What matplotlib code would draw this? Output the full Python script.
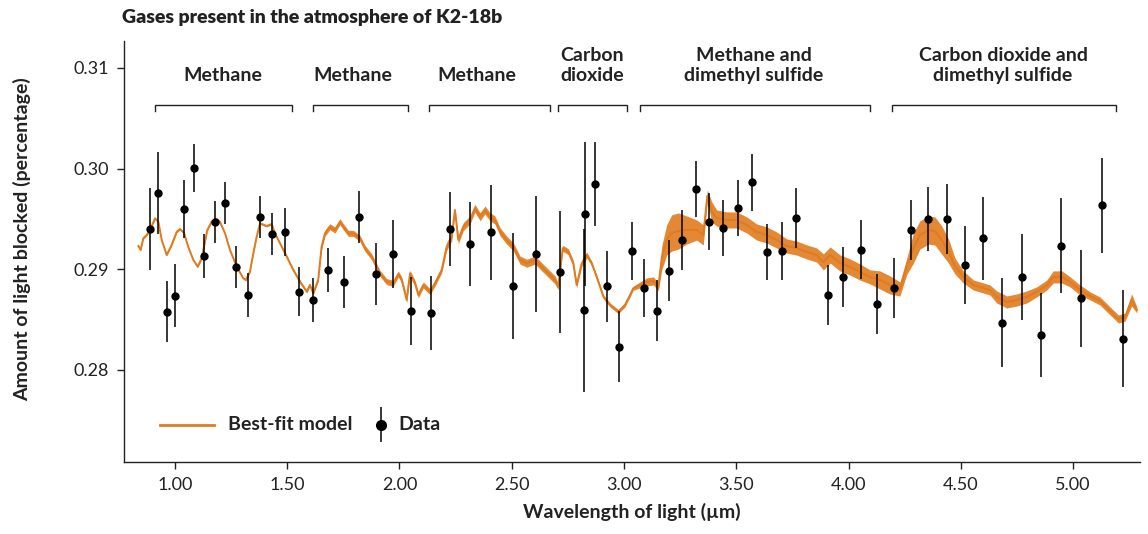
import matplotlib
matplotlib.use("Agg")
import matplotlib.pyplot as plt
import numpy as np
from matplotlib.ticker import FormatStrFormatter

plt.rcParams['font.family'] = ['Lato', 'DejaVu Sans']

# best-fit model (wavelength in um, depth in %, band half-width)
model_wl = [
    0.837, 0.847, 0.859, 0.874, 0.889, 0.911, 0.926, 0.941, 0.963, 0.985,
    1.008, 1.022, 1.040, 1.059, 1.082, 1.101, 1.119, 1.144, 1.163, 1.186,
    1.200, 1.223, 1.245, 1.275, 1.304, 1.316, 1.334, 1.349, 1.364, 1.379,
    1.408, 1.431, 1.445, 1.468, 1.498, 1.527, 1.557, 1.587, 1.601, 1.616,
    1.638,
    1.653, 1.668, 1.690, 1.713, 1.735, 1.750, 1.772, 1.794, 1.824, 1.846,
    1.876, 1.913, 1.943, 1.972, 1.995, 2.010, 2.032, 2.047, 2.069, 2.084,
    2.106, 2.136, 2.158, 2.188,
    2.210, 2.233, 2.247, 2.262, 2.284, 2.314, 2.336, 2.359, 2.381, 2.403,
    2.425, 2.448, 2.477, 2.507, 2.537, 2.567, 2.604, 2.633, 2.663, 2.693,
    2.707,
    2.727, 2.752, 2.774, 2.789, 2.812, 2.834, 2.856, 2.878, 2.908, 2.938,
    2.975, 3.004, 3.027, 3.041,
    3.071, 3.101, 3.131, 3.153,
    3.168, 3.190, 3.212, 3.242, 3.279, 3.324, 3.353, 3.371, 3.391, 3.413,
    3.458, 3.502, 3.547, 3.591, 3.636, 3.680, 3.725, 3.769, 3.814, 3.858,
    3.888, 3.918, 3.962, 4.007, 4.051, 4.096, 4.140, 4.185, 4.229,
    4.259, 4.289, 4.318, 4.356, 4.385, 4.415, 4.445, 4.474, 4.511, 4.556,
    4.601, 4.630, 4.660, 4.705, 4.749, 4.794, 4.838, 4.883, 4.912, 4.950,
    4.987, 5.031, 5.076, 5.120, 5.165, 5.202, 5.232, 5.261, 5.284,
]
model_depth = [
    0.29230, 0.29191, 0.29307, 0.29340, 0.29390, 0.29505, 0.29472, 0.29290, 0.29141, 0.29240,
    0.29372, 0.29399, 0.29362, 0.29223, 0.29091, 0.29025, 0.29108, 0.29389, 0.29472, 0.29498,
    0.29472, 0.29356, 0.29191, 0.29025, 0.28910, 0.28893, 0.28975, 0.29158, 0.29323, 0.29456,
    0.29429, 0.29449, 0.29356, 0.29257, 0.29124, 0.28992, 0.28876, 0.28777, 0.28843, 0.28761,
    0.28893,
    0.29223, 0.29356, 0.29422, 0.29389, 0.29472, 0.29422, 0.29356, 0.29356, 0.29307, 0.29208,
    0.29124, 0.28959, 0.28876, 0.28860, 0.28952, 0.28893, 0.28694, 0.28959, 0.28860, 0.28744,
    0.28843, 0.28777, 0.28860, 0.28992,
    0.29223, 0.29323, 0.29588, 0.29290, 0.29422, 0.29489, 0.29605, 0.29521, 0.29588, 0.29521,
    0.29489, 0.29372, 0.29290, 0.29223, 0.29091, 0.29059, 0.29091, 0.29025, 0.28959, 0.28893,
    0.28826,
    0.29208, 0.29174, 0.29059, 0.28843, 0.29059, 0.29141, 0.29059, 0.28926, 0.28727, 0.28644,
    0.28578, 0.28644, 0.28744, 0.28810,
    0.28843, 0.28873, 0.28883, 0.28826,
    0.29111, 0.29290, 0.29359, 0.29379, 0.29389, 0.29389, 0.29340, 0.29727, 0.29568, 0.29508,
    0.29489, 0.29489, 0.29439, 0.29369, 0.29340, 0.29290, 0.29230, 0.29210, 0.29171, 0.29141,
    0.29072, 0.29141, 0.29062, 0.29022, 0.28972, 0.28923, 0.28893, 0.28843, 0.28803,
    0.29025, 0.29210, 0.29340, 0.29389, 0.29379, 0.29290, 0.29181, 0.29032, 0.28923, 0.28843,
    0.28813, 0.28793, 0.28724, 0.28674, 0.28694, 0.28724, 0.28774, 0.28843, 0.28923, 0.28923,
    0.28873, 0.28793, 0.28734, 0.28684, 0.28585, 0.28505, 0.28525, 0.28694, 0.28595,
]
model_spread = [
    0.0001, 0.0001, 0.0001, 0.0001, 0.0001, 0.0001, 0.0001, 0.0001, 0.0001, 0.0001,
    0.0001, 0.0001, 0.0001, 0.0001, 0.0001, 0.0001, 0.0001, 0.0001, 0.0001, 0.0001,
    0.0001, 0.0001, 0.0001, 0.0001, 0.0001, 0.0001, 0.0001, 0.0001, 0.0001, 0.0001,
    0.0001, 0.0001, 0.0001, 0.0001, 0.00015, 0.00015, 0.00015, 0.00015, 0.00015, 0.00015,
    0.00015,
    0.0003, 0.0003, 0.0003, 0.0003, 0.0003, 0.0003, 0.0003, 0.0003, 0.0003, 0.0003,
    0.0003, 0.0003, 0.0003, 0.0003, 0.0003, 0.0003, 0.0003, 0.0003, 0.0003, 0.0003,
    0.0003, 0.0003, 0.0003, 0.0003,
    0.0004, 0.0004, 0.0002, 0.0004, 0.0004, 0.0004, 0.0004, 0.0004, 0.0004, 0.0004,
    0.0004, 0.0004, 0.0004, 0.0004, 0.0004, 0.0004, 0.0004, 0.0004, 0.0004, 0.0004,
    0.0003,
    0.0003, 0.0003, 0.0003, 0.0003, 0.0003, 0.0003, 0.0002, 0.0002, 0.0002, 0.0002,
    0.0002, 0.0002, 0.0002, 0.0002,
    0.0003, 0.0004, 0.0004, 0.0004,
    0.0012, 0.0015, 0.0018, 0.0018, 0.0014, 0.0010, 0.0010, 0.0006, 0.0010, 0.0008,
    0.0008, 0.0008, 0.0008, 0.0008, 0.0008, 0.0008, 0.0007, 0.0007, 0.0007, 0.0007,
    0.0008, 0.0008, 0.0008, 0.0008, 0.0008, 0.0007, 0.0009, 0.0009, 0.0007,
    0.0008, 0.0015, 0.0014, 0.0014, 0.0014, 0.0014, 0.0012, 0.0008, 0.0006, 0.0005,
    0.0005, 0.0005, 0.0006, 0.0006, 0.0006, 0.0006, 0.0005, 0.0005, 0.0006, 0.0006,
    0.0005, 0.0005, 0.0004, 0.0004, 0.0004, 0.0004, 0.0004, 0.0006, 0.0003,
]

# observed points with error bars
data_wl = [
    0.889, 0.924, 0.963, 1.001, 1.041, 1.086, 1.128, 1.178, 1.224, 1.273,
    1.324, 1.379, 1.433, 1.491, 1.554, 1.615, 1.682, 1.751, 1.821, 1.894,
    1.972, 2.053, 2.139, 2.224, 2.314, 2.409, 2.506, 2.607, 2.715, 2.825,
    2.823, 2.872, 2.926, 2.979, 3.034, 3.090, 3.146, 3.202, 3.260, 3.322,
    3.380, 3.441, 3.506, 3.571, 3.637, 3.702, 3.767, 3.909, 3.977, 4.054,
    4.127, 4.203, 4.280, 4.356, 4.439, 4.519, 4.599, 4.685, 4.773, 4.859,
    4.948, 5.037, 5.128, 5.224,
]
data_depth = [
    0.29399, 0.29757, 0.28578, 0.28737, 0.29601, 0.30002, 0.29131, 0.29469, 0.29660, 0.29022,
    0.28741, 0.29518, 0.29347, 0.29372, 0.28777, 0.28694, 0.28989, 0.28870, 0.29518, 0.28952,
    0.29151, 0.28582, 0.28565, 0.29399, 0.29250, 0.29366, 0.28833, 0.29151, 0.28972, 0.29548,
    0.28592, 0.29846, 0.28830, 0.28230, 0.29178, 0.28810, 0.28588, 0.28985, 0.29290, 0.29796,
    0.29472, 0.29406, 0.29608, 0.29863, 0.29171, 0.29178, 0.29508, 0.28741, 0.28920, 0.29194,
    0.28654, 0.28810, 0.29389, 0.29496, 0.29499, 0.29042, 0.29307, 0.28469, 0.28923, 0.28347,
    0.29233, 0.28711, 0.29635, 0.28311,
]
data_err = [
    0.0041, 0.0041, 0.0030, 0.0031, 0.0029, 0.0024, 0.0022, 0.0021, 0.0021, 0.0021,
    0.0022, 0.0021, 0.0021, 0.0024, 0.0024, 0.0022, 0.0022, 0.0026, 0.0026, 0.0031,
    0.0034, 0.0034, 0.0037, 0.0037, 0.0042, 0.0047, 0.0053, 0.0058, 0.0061, 0.0072,
    0.0081, 0.0042, 0.0035, 0.0035, 0.0029, 0.0029, 0.0030, 0.0030, 0.0030, 0.0028,
    0.0028, 0.0028, 0.0028, 0.0028, 0.0028, 0.0029, 0.0030, 0.0030, 0.0030, 0.0029,
    0.0030, 0.0030, 0.0030, 0.0032, 0.0035, 0.0039, 0.0041, 0.0044, 0.0043, 0.0042,
    0.0047, 0.0048, 0.0047, 0.0048,
]

# gas bands marked above the spectrum
band_names = ['Methane', 'Methane', 'Methane', 'Carbon\ndioxide',
              'Methane and\ndimethyl sulfide', 'Carbon dioxide and\ndimethyl sulfide']
band_start = [0.911, 1.615, 2.131, 2.706, 3.071, 4.194]
band_end = [1.521, 2.038, 2.670, 3.013, 4.096, 5.192]
band_label_x = [1.214, 1.793, 2.345, 2.857, 3.579, 4.688]

x_ticks = [1.0, 1.5, 2.0, 2.5, 3.0, 3.5, 4.0, 4.5, 5.0]
y_ticks = [0.28, 0.29, 0.30, 0.31]

orange = '#e07b1f'
ink = '#222222'

fig = plt.figure(figsize=(11.48, 5.34), dpi=100)
ax = fig.add_axes([0.108, 0.135, 0.885, 0.788])

wl = np.array(model_wl)
depth = np.array(model_depth)
spread = np.array(model_spread)
ax.fill_between(wl, depth - spread, depth + spread, color=orange, lw=0, alpha=0.9)
ax.plot(wl, depth, color=orange, lw=1.4)

ax.errorbar(data_wl, data_depth, yerr=data_err, fmt='o', ms=5,
            color='black', ecolor='black', elinewidth=1.1, capsize=0, zorder=3)

# brackets and labels
bracket_y = 0.3063
for name, s, e, lx in zip(band_names, band_start, band_end, band_label_x):
    ax.plot([s, s, e, e], [bracket_y - 0.0006, bracket_y, bracket_y, bracket_y - 0.0006],
            color=ink, lw=1.0, solid_joinstyle='miter')
    ax.annotate(name, xy=(lx, bracket_y), xytext=(0, 15), textcoords='offset points',
                ha='center', va='bottom', fontsize=14, fontweight='bold', color=ink,
                linespacing=1.25, multialignment='center')

ax.set_xlim(0.773, 5.298)
ax.set_ylim(0.27085, 0.31266)
ax.set_xticks(x_ticks)
ax.set_yticks(y_ticks)
ax.xaxis.set_major_formatter(FormatStrFormatter('%.2f'))
ax.yaxis.set_major_formatter(FormatStrFormatter('%.2f'))
ax.tick_params(direction='out', length=5, width=1, colors=ink, labelsize=13, pad=6)

for side in ['top', 'right']:
    ax.spines[side].set_visible(False)
for side in ['left', 'bottom']:
    ax.spines[side].set_color(ink)
    ax.spines[side].set_linewidth(1.0)

# legend keys drawn by hand to match the spacing
ax.plot([0.0354, 0.0886], [0.088, 0.088], color=orange, lw=2, transform=ax.transAxes)
ax.text(0.1024, 0.088, 'Best-fit model', transform=ax.transAxes, fontsize=14,
        fontweight='bold', color=ink, va='center', ha='left')
ax.errorbar([0.253], [0.088], yerr=[0.0416], fmt='o', ms=7, color='black',
            ecolor='black', elinewidth=1.1, capsize=0, transform=ax.transAxes)
ax.text(0.2697, 0.088, 'Data', transform=ax.transAxes, fontsize=14,
        fontweight='bold', color=ink, va='center', ha='left')

ax.set_xlabel('Wavelength of light (µm)', fontsize=14, fontweight='bold', color=ink, labelpad=7)
fig.text(0.019, 0.552, 'Amount of light blocked (percentage)', rotation=90,
         fontsize=14, fontweight='bold', color=ink, ha='center', va='center')
fig.text(0.1063, 0.968, 'Gases present in the atmosphere of K2-18b',
         fontsize=14, fontweight='heavy', color=ink, ha='left', va='center')

fig.savefig('out.png', dpi=100)
